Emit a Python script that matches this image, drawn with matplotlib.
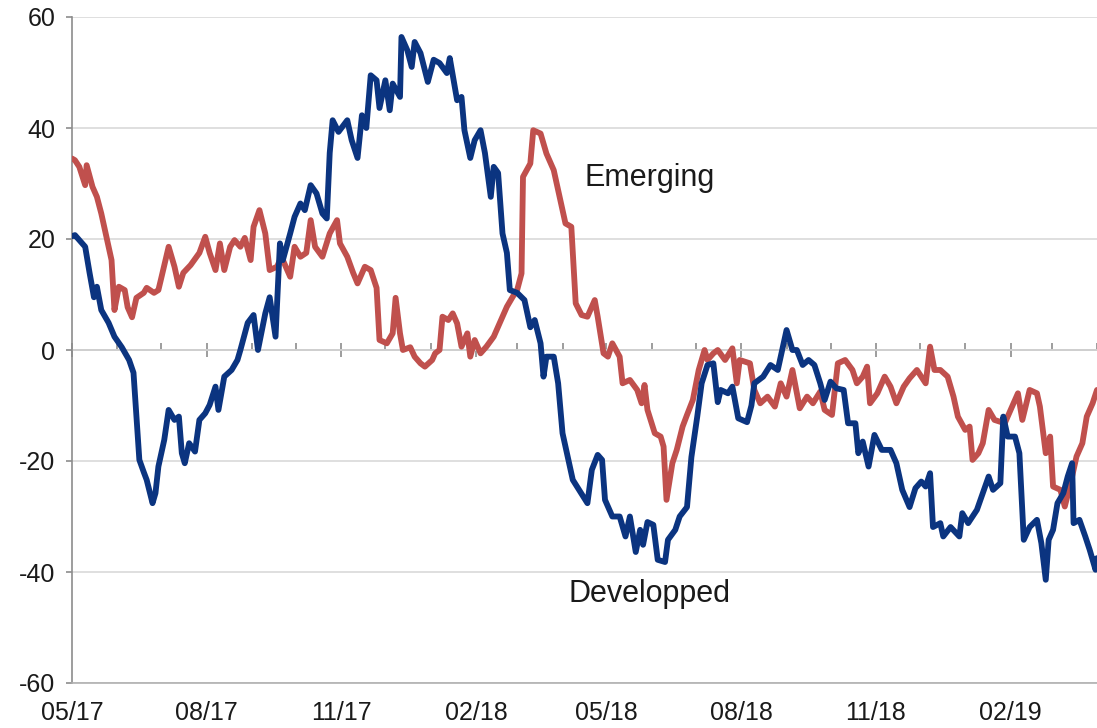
import matplotlib
matplotlib.use('Agg')
import matplotlib.pyplot as plt
import matplotlib.dates as mdates
import matplotlib.ticker as mticker
import pandas as pd

# days counted from 01/05/2017
start = pd.Timestamp('2017-05-01')

dev_days = [0, 2, 9, 12, 15, 17, 20, 25, 29, 34, 39, 42, 44, 46, 49, 51, 55, 57, 59, 63,
            66, 70, 73, 75, 77, 80, 84, 87, 91, 94, 98, 100, 104, 109, 113, 115, 120, 124, 127, 132,
            135, 139, 142, 144, 149, 152, 156, 159, 163, 167, 171, 174, 176, 178, 182, 188, 191, 195, 198, 201,
            204, 208, 210, 214, 217, 219, 224, 225, 229, 232, 234, 238, 243, 247, 251, 256, 258, 263, 266, 268,
            272, 275, 279, 282, 286, 288, 291, 294, 297, 299, 304, 309, 313, 316, 320, 322, 324, 329, 332, 335,
            339, 342, 347, 352, 355, 359, 362, 364, 369, 374, 378, 381, 385, 388, 390, 393, 397, 400, 405, 407,
            412, 415, 420, 423, 427, 430, 434, 438, 441, 443, 448, 451, 455, 461, 464, 466, 472, 477, 482, 486,
            488, 492, 495, 499, 503, 507, 511, 514, 518, 522, 527, 530, 535, 537, 540, 544, 548, 553, 559, 563,
            567, 572, 576, 580, 583, 586, 588, 593, 595, 600, 606, 608, 612, 618, 622, 626, 629, 634, 636, 639,
            644, 647, 650, 654, 659, 662, 665, 667, 670, 673, 677, 680, 683, 684, 688, 692, 695, 699, 700]
dev_vals = [20.5, 20.7, 18.6, 13.9, 9.5, 11.4, 7.2, 4.9, 2.4, 0.5, -1.8, -4.1, -12, -19.8, -22, -23.4, -27.6, -25.8, -21, -16.2,
            -10.8, -12.6, -12, -18.6, -20.4, -16.8, -18.3, -12.6, -11.4, -9.9, -6.6, -10.8, -4.8, -3.6, -1.8, 0, 4.9, 6.3, 0, 6.6,
            9.5, 2.4, 19.2, 16.2, 21, 24, 26.4, 25.2, 29.7, 28.2, 24.6, 23.7, 35.5, 41.4, 39.3, 41.4, 37.8, 34.6, 42.3, 40,
            49.5, 48.6, 43.6, 48.6, 43.2, 48, 45.6, 56.4, 54, 51, 55.5, 53.5, 48.3, 52.3, 51.7, 49.9, 52.6, 45, 45.6, 39.6,
            34.6, 37.8, 39.6, 35.5, 27.6, 33, 31.9, 21, 17.5, 10.8, 10.3, 9, 4.1, 5.4, 1.2, -4.8, -1.2, -1.2, -6, -15,
            -19.8, -23.4, -25.5, -27.6, -21.6, -18.9, -19.8, -27, -30, -30, -33.6, -30, -36.4, -32.4, -35.1, -31, -31.5, -37.8, -38.2, -34.2,
            -32.4, -30, -28.3, -19.3, -12, -6, -2.7, -2.4, -9.4, -7.2, -7.8, -6.6, -12.3, -13, -10, -6, -4.8, -2.7, -3.6, 1.2,
            3.6, 0, 0, -2.7, -1.8, -2.7, -6, -9, -5.7, -6.9, -7.2, -13.2, -13.2, -18.6, -16.5, -21, -15.3, -18, -18, -20.4,
            -25.2, -28.3, -24.9, -23.7, -24.6, -22.2, -31.9, -31.2, -33.6, -31.9, -33.6, -29.4, -31.2, -28.8, -25.8, -22.8, -25.2, -24, -12, -15.6,
            -15.6, -18.6, -34.2, -31.9, -30.6, -34.8, -41.4, -34.2, -32.4, -27.6, -25.8, -22.8, -20.4, -31.2, -30.6, -33.6, -36, -39.6, -37.5]

emg_days = [0, 2, 5, 9, 10, 14, 17, 20, 24, 27, 29, 32, 36, 38, 41, 44, 49, 51, 56, 59,
            61, 66, 70, 73, 76, 81, 87, 91, 94, 98, 101, 104, 108, 111, 115, 118, 122, 124, 128, 132,
            135, 140, 143, 149, 152, 156, 160, 163, 166, 171, 176, 181, 183, 188, 192, 195, 200, 204, 208, 210,
            215, 219, 221, 224, 226, 231, 234, 238, 241, 246, 248, 251, 253, 257, 260, 263, 266, 270, 272, 275,
            279, 283, 288, 292, 297, 301, 304, 307, 308, 313, 315, 320, 324, 329, 333, 337, 341, 344, 348, 352,
            357, 359, 363, 366, 369, 374, 376, 381, 386, 389, 391, 393, 398, 402, 404, 406, 410, 413, 417, 420,
            424, 428, 432, 434, 438, 441, 446, 451, 454, 456, 463, 466, 470, 475, 480, 484, 488, 492, 497, 502,
            506, 511, 514, 519, 523, 528, 533, 536, 540, 543, 545, 550, 555, 559, 563, 568, 572, 577, 583, 586,
            589, 593, 598, 602, 605, 610, 613, 615, 619, 622, 626, 630, 637, 641, 646, 649, 654, 659, 661, 665,
            668, 670, 675, 678, 682, 686, 690, 693, 697, 700]
emg_vals = [34.5, 34.2, 33, 29.7, 33.3, 29.4, 27.6, 24.6, 19.8, 16.2, 7.2, 11.4, 10.8, 7.7, 5.9, 9.4, 10.3, 11.2, 10.3, 10.8,
            13, 18.6, 15, 11.4, 13.9, 15.3, 17.5, 20.4, 17.5, 14.4, 19.2, 14.4, 18.6, 19.8, 18.6, 20.2, 16.2, 22.2, 25.2, 21,
            14.4, 15, 16.8, 13.2, 18.6, 16.8, 17.5, 23.4, 18.6, 16.8, 21, 23.4, 19.2, 16.8, 13.9, 12, 15, 14.4, 11.2, 1.8,
            1.2, 3, 9.4, 3, 0, 0.5, -1.2, -2.4, -3, -1.8, -0.6, 0, 6, 5.4, 6.6, 4.8, 0.6, 3, -1.2, 1.8,
            -0.6, 0.6, 2.4, 4.8, 7.8, 9.6, 10.8, 13.8, 31.2, 33.6, 39.6, 39, 35.4, 32.4, 27.6, 22.8, 22.2, 8.4, 6.3, 6,
            9, 6, -0.6, -1.2, 1.2, -1.2, -6, -5.4, -7.2, -9.6, -6.3, -10.8, -15, -15.6, -17.4, -27, -20.4, -18, -13.8, -11.7,
            -9, -3.6, 0, -1.8, -0.6, 0, -1.8, 0.3, -6, -1.8, -2.4, -7.2, -9.6, -8.4, -10.2, -6, -8.4, -3.6, -10.5, -8.4,
            -9.6, -7.5, -10.8, -11.7, -2.4, -1.8, -3.6, -6, -4.8, -3, -9.6, -7.8, -4.8, -6.6, -9.6, -6.6, -5.1, -3.6, -6, 0.6,
            -3.6, -3.6, -4.8, -8.4, -12, -14.4, -13.8, -19.8, -18.6, -16.8, -10.8, -12.6, -13.2, -10.8, -7.8, -12.6, -7.2, -7.8, -10.2, -18.6,
            -15.6, -24.6, -25.2, -28.2, -24, -19.2, -16.8, -12, -9.6, -7.2]

dev_dates = start + pd.to_timedelta(dev_days, unit='D')
emg_dates = start + pd.to_timedelta(emg_days, unit='D')

blue = '#0b3480'
red = '#c0504d'
axis_grey = '#8c8c8c'

plt.rcParams['font.family'] = ['Liberation Sans', 'DejaVu Sans']
plt.rcParams['axes.unicode_minus'] = False

fig = plt.figure(figsize=(10.97, 7.28), dpi=100)
ax = fig.add_axes([72/1097, 45/728, 1 - 72/1097, 666/728])

ax.plot(emg_dates, emg_vals, color=red, lw=4.2, solid_joinstyle='round', solid_capstyle='round', zorder=3)
ax.plot(dev_dates, dev_vals, color=blue, lw=4.2, solid_joinstyle='round', solid_capstyle='round', zorder=4)

ax.set_xlim(start, start + pd.Timedelta(days=700))
ax.set_ylim(-60, 60)
ax.set_yticks(range(-60, 61, 20))
ax.yaxis.grid(True, color='#d9d9d9', lw=1.2)
ax.set_axisbelow(True)

ax.xaxis.set_major_locator(mdates.MonthLocator(bymonth=(2, 5, 8, 11)))
ax.xaxis.set_major_formatter(mdates.DateFormatter('%m/%y'))
ax.tick_params(axis='x', length=0, pad=13, labelsize=18, labelcolor='#1a1a1a')
ax.tick_params(axis='y', length=4, width=1.2, color=axis_grey, pad=8, labelsize=18, labelcolor='#1a1a1a')

for s in ['top', 'right']:
    ax.spines[s].set_visible(False)
ax.spines['left'].set_color(axis_grey)
ax.spines['left'].set_linewidth(1.2)
ax.spines['bottom'].set_color('#b0b0b0')
ax.spines['bottom'].set_linewidth(1.2)

# zero line with month ticks
sec = ax.secondary_xaxis(0.5)
sec.xaxis.set_major_locator(mdates.MonthLocator(bymonth=(2, 5, 8, 11)))
sec.xaxis.set_minor_locator(mdates.MonthLocator())
sec.xaxis.set_major_formatter(mticker.NullFormatter())
sec.xaxis.set_minor_formatter(mticker.NullFormatter())
sec.tick_params(which='major', direction='inout', length=10, width=1.2, color=axis_grey)
sec.tick_params(which='minor', direction='out', length=5, width=1.2, color=axis_grey)
for s in sec.spines.values():
    s.set_color(axis_grey)
    s.set_linewidth(1.2)

ax.text(start + pd.Timedelta(days=350), 31, 'Emerging', fontsize=22, va='center', color='#1a1a1a')
ax.text(start + pd.Timedelta(days=339), -44, 'Developped', fontsize=22, va='center', color='#1a1a1a')

fig.savefig('out.png', dpi=100)
